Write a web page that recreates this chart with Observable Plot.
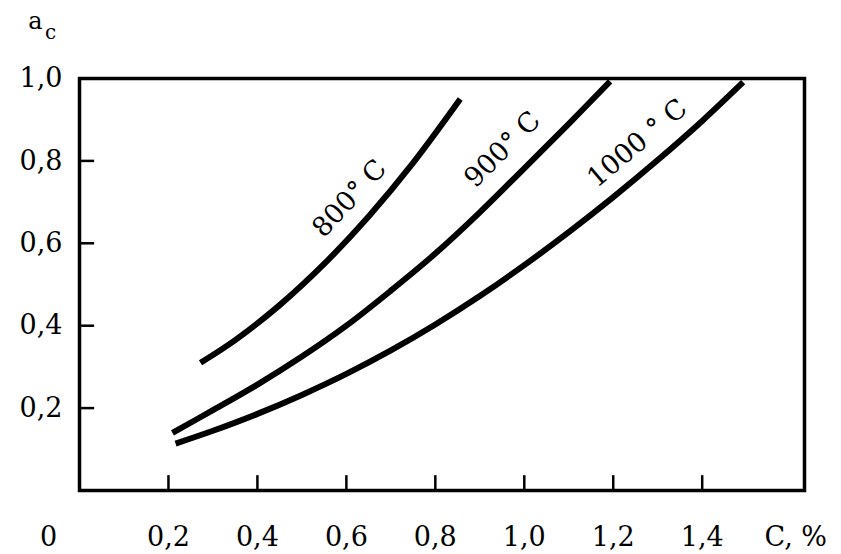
<!DOCTYPE html>
<html>
<head>
<meta charset="utf-8">
<script src="https://cdn.jsdelivr.net/npm/d3@7"></script>
<script src="https://cdn.jsdelivr.net/npm/@observablehq/plot@0.6"></script>
<style>
  html, body { margin: 0; padding: 0; background: #fff; }
  #chart svg { display: block; }
</style>
</head>
<body>
<div id="chart"></div>
<script>
// Curve data (C, % vs a_c)
const c800 = [0.272, 0.35, 0.45, 0.55, 0.65, 0.75, 0.856];
const a800 = [0.310, 0.365, 0.450, 0.550, 0.665, 0.795, 0.950];

const c900 = [0.209, 0.3, 0.4, 0.5, 0.6, 0.7, 0.8, 0.9, 1.0, 1.1, 1.193];
const a900 = [0.140, 0.195, 0.257, 0.325, 0.400, 0.485, 0.575, 0.675, 0.782, 0.890, 0.993];

const c1000 = [0.216, 0.3, 0.4, 0.5, 0.6, 0.7, 0.8, 0.9, 1.0, 1.1, 1.2, 1.3, 1.4, 1.492];
const a1000 = [0.114, 0.145, 0.186, 0.232, 0.283, 0.340, 0.403, 0.472, 0.547, 0.627, 0.712, 0.802, 0.897, 0.991];

const seriesNames = ["800° C", "900° C", "1000 ° C"];
const labelC = [0.607, 0.951, 1.254];
const labelA = [0.709, 0.828, 0.843];
const labelAngle = [-47, -45, -40];

const xTicks = [0.2, 0.4, 0.6, 0.8, 1.0, 1.2, 1.4];
const xTickLabels = ["0,2", "0,4", "0,6", "0,8", "1,0", "1,2", "1,4"];
const yTicks = [0.2, 0.4, 0.6, 0.8, 1.0];
const yTickLabels = ["0,2", "0,4", "0,6", "0,8", "1,0"];

const xDomain = [0, 1.63];
const yDomain = [0, 1.0];

const toRows = (name, xs, ys) => xs.map((x, i) => ({series: name, c: x, a: ys[i]}));
const rows = [
  ...toRows(seriesNames[0], c800, a800),
  ...toRows(seriesNames[1], c900, a900),
  ...toRows(seriesNames[2], c1000, a1000)
];
const labels = seriesNames.map((s, i) => ({text: s, c: labelC[i], a: labelA[i], r: labelAngle[i]}));
const xt = xTicks.map((v, i) => ({v, t: xTickLabels[i]}));
const yt = yTicks.map((v, i) => ({v, t: yTickLabels[i]}));

const font = "DejaVu Serif";

const chart = Plot.plot({
  width: 841,
  height: 554,
  marginLeft: 79,
  marginRight: 37,
  marginTop: 78,
  marginBottom: 64,
  x: {domain: xDomain, axis: null},
  y: {domain: yDomain, axis: null},
  style: {fontFamily: font, background: "#fff", color: "#000"},
  marks: [
    Plot.line(rows, {x: "c", y: "a", z: "series", curve: "catmull-rom", stroke: "#000", strokeWidth: 6, strokeLinecap: "butt"}),
    Plot.frame({stroke: "#000", strokeWidth: 3.5}),
    Plot.ruleX(xTicks, {x: d => d, y1: 0, y2: 0.036, stroke: "#000", strokeWidth: 2.5}),
    Plot.ruleY(yTicks.filter(v => v < 1), {y: d => d, x1: 0, x2: 0.034, stroke: "#000", strokeWidth: 2.5}),
    Plot.text(xt, {x: "v", y: () => 0, text: "t", dy: 47, fontSize: 27, fill: "#000", lineAnchor: "middle"}),
    Plot.text(["0"], {x: () => 0, y: () => 0, text: d => d, dx: -31, dy: 47, fontSize: 27, fill: "#000", lineAnchor: "middle"}),
    Plot.text(["C, %"], {x: () => 1.54, y: () => 0, text: d => d, dy: 47, fontSize: 27, fill: "#000", textAnchor: "start", lineAnchor: "middle"}),
    Plot.text(yt, {x: () => 0, y: "v", text: "t", dx: -17, fontSize: 27, fill: "#000", textAnchor: "end", lineAnchor: "middle"}),
    Plot.text(["a"], {x: () => 0, y: () => 1, text: d => d, dx: -44, dy: -57, fontSize: 24, fill: "#000", lineAnchor: "middle"}),
    Plot.text(["c"], {x: () => 0, y: () => 1, text: d => d, dx: -29, dy: -46, fontSize: 20, fill: "#000", lineAnchor: "middle"}),
    Plot.text(labels, {x: "c", y: "a", text: "text", rotate: "r", fontSize: 27, fill: "#000", lineAnchor: "middle"})
  ]
});
document.getElementById("chart").appendChild(chart);
</script>
</body>
</html>
